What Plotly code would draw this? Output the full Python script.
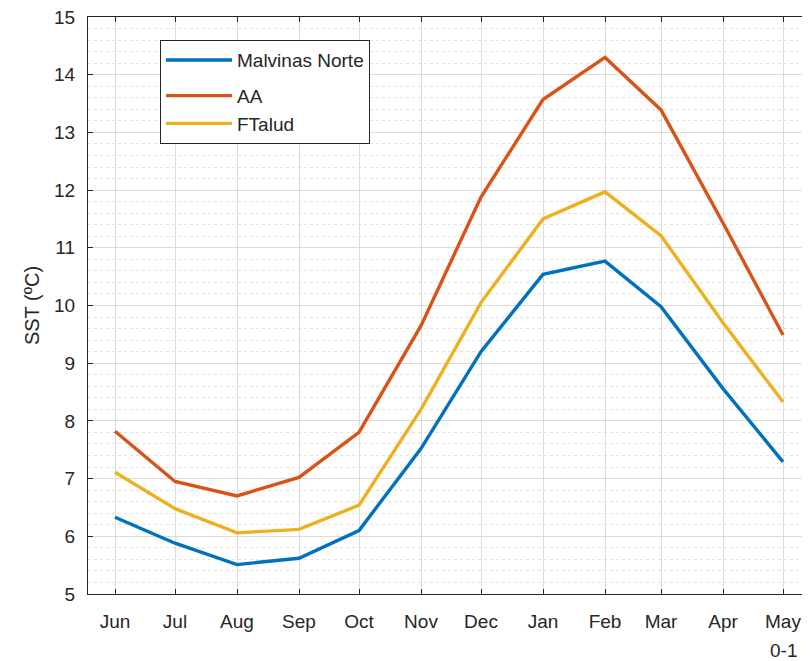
import plotly.graph_objects as go

months = ["2000-06-01", "2000-07-01", "2000-08-01", "2000-09-01", "2000-10-01", "2000-11-01",
          "2000-12-01", "2001-01-01", "2001-02-01", "2001-03-01", "2001-04-01", "2001-05-01"]
malvinas_norte = [6.33, 5.88, 5.51, 5.62, 6.10, 7.52, 9.20, 10.54, 10.77, 9.98, 8.56, 7.29]
aa = [7.82, 6.95, 6.70, 7.02, 7.80, 9.65, 11.88, 13.57, 14.30, 13.39, 11.43, 9.49]
ftalud = [7.11, 6.48, 6.06, 6.12, 6.54, 8.20, 10.05, 11.50, 11.97, 11.21, 9.70, 8.33]
series_names = ["Malvinas Norte", "AA", "FTalud"]
groups = ["g1", "g2", "g2"]
colors = ["#0072BD", "#D95319", "#EDB120"]

fig = go.Figure()
for name, vals, c, g in zip(series_names, [malvinas_norte, aa, ftalud], colors, groups):
    fig.add_trace(go.Scatter(x=months, y=vals, mode="lines", name=name, legendgroup=g,
                             line=dict(color=c, width=3.4)))

font = dict(family="Liberation Sans, Arial, sans-serif", size=19, color="#262626")
# the page body has an 8px margin, so the figure is 8px smaller than the window
fig.update_layout(
    width=802, height=653,
    margin=dict(l=80, r=0, t=9, b=67),
    paper_bgcolor="white", plot_bgcolor="white",
    font=font,
    showlegend=True,
    legend=dict(x=0.0997, y=0.960, xanchor="left", yanchor="top",
                bgcolor="white", bordercolor="#262626", borderwidth=1,
                font=font, itemwidth=66, tracegroupgap=8),
)
fig.update_xaxes(
    type="date", automargin=False,
    range=["2000-05-18 12:00", "2001-05-14 12:00"],
    tick0="2000-06-01", dtick="M1", tickformat="%b",
    ticks="inside", ticklen=5, tickcolor="#262626",
    showline=True, linecolor="#262626", linewidth=1.2, mirror="allticks",
    showgrid=True, gridcolor="#dcdcdc", gridwidth=1,
    ticklabelstandoff=10, ticklabeloverflow="allow",
    zeroline=False,
)
fig.update_yaxes(
    range=[5, 15], dtick=1, automargin=False,
    ticks="inside", ticklen=5, tickcolor="#262626",
    showline=True, linecolor="#262626", linewidth=1.2, mirror=False,
    showgrid=True, gridcolor="#dcdcdc", gridwidth=1,
    minor=dict(dtick=0.2, showgrid=True, gridcolor="#e2e2e2", griddash="dot", gridwidth=1),
    title=dict(text="SST (ºC)", font=dict(size=20, color="#262626"), standoff=8),
    ticklabelstandoff=8, ticklabeloverflow="allow",
    zeroline=False,
)
fig.add_annotation(x="2001-05-01", y=0, xref="x", yref="paper", yshift=-56, yanchor="middle",
                   text="0-1", showarrow=False, font=font)
fig.write_html("out.html")
